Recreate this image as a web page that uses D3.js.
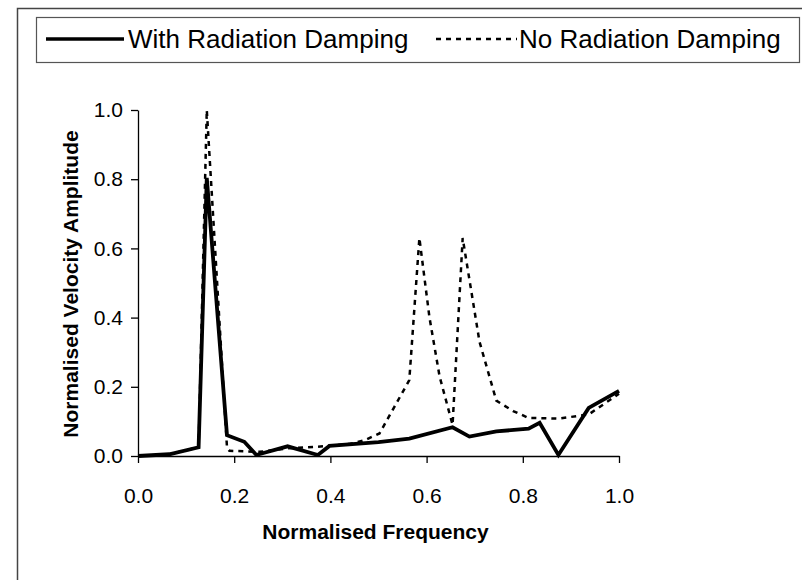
<!DOCTYPE html>
<html>
<head>
<meta charset="utf-8">
<script src="https://cdn.jsdelivr.net/npm/d3@7"></script>
<style>
  body { margin: 0; background: #fff; }
  svg { font-family: "Liberation Sans", Arial, sans-serif; }
</style>
</head>
<body>
<div id="chart"></div>
<script>
// data
var freqWith = [0, 0.065, 0.126, 0.143, 0.185, 0.221, 0.246, 0.311, 0.374, 0.398, 0.5, 0.564, 0.654, 0.689, 0.745, 0.812, 0.835, 0.874, 0.937, 1.0];
var ampWith  = [0, 0.005, 0.025, 0.804, 0.06, 0.041, 0.003, 0.028, 0.003, 0.029, 0.04, 0.05, 0.083, 0.056, 0.071, 0.079, 0.096, 0.003, 0.139, 0.188];

var freqNo = [0, 0.065, 0.126, 0.143, 0.185, 0.19, 0.253, 0.311, 0.374, 0.398, 0.44, 0.47, 0.502, 0.533, 0.564, 0.585, 0.606, 0.627, 0.654, 0.675, 0.71, 0.745, 0.78, 0.812, 0.874, 0.937, 1.0];
var ampNo  = [0, 0.005, 0.025, 1.0, 0.025, 0.015, 0.012, 0.022, 0.027, 0.03, 0.035, 0.045, 0.065, 0.142, 0.219, 0.63, 0.40, 0.23, 0.09, 0.63, 0.33, 0.16, 0.13, 0.11, 0.108, 0.12, 0.18];

var ticks = [0, 0.2, 0.4, 0.6, 0.8, 1.0];
var seriesNames = ["With Radiation Damping", "No Radiation Damping"];

var svgWidth = 802, svgHeight = 580;
var margin = {top: 110, left: 138};
var width = 481, height = 346;

var svg = d3.select("#chart").append("svg")
    .attr("width", svgWidth)
    .attr("height", svgHeight);

// outer frame
svg.append("rect")
    .attr("x", 17.5).attr("y", 8.5)
    .attr("width", 800).attr("height", 600)
    .attr("fill", "none").attr("stroke", "#444").attr("stroke-width", 1.5);

// legend box
svg.append("rect")
    .attr("x", 36.5).attr("y", 17.5)
    .attr("width", 763).attr("height", 45)
    .attr("fill", "none").attr("stroke", "#555").attr("stroke-width", 1.2);

var legend = svg.append("g");
legend.append("line")
    .attr("x1", 46).attr("x2", 124).attr("y1", 39).attr("y2", 39)
    .attr("stroke", "#000").attr("stroke-width", 3.5);
legend.append("text")
    .attr("x", 128).attr("y", 48)
    .attr("font-size", 26)
    .text(seriesNames[0]);
legend.append("line")
    .attr("x1", 436).attr("x2", 517).attr("y1", 39).attr("y2", 39)
    .attr("stroke", "#000").attr("stroke-width", 2.5)
    .attr("stroke-dasharray", "5,5");
legend.append("text")
    .attr("x", 519).attr("y", 48)
    .attr("font-size", 26)
    .text(seriesNames[1]);

var chartGroup = svg.append("g")
    .attr("transform", `translate(${margin.left}, ${margin.top})`);

var x = d3.scaleLinear().domain([0, 1]).range([0, width]);
var y = d3.scaleLinear().domain([0, 1]).range([height, 0]);

var xAxis = chartGroup.append("g")
    .attr("transform", "translate(0," + height + ")")
    .call(d3.axisBottom(x).tickValues(ticks).tickFormat(d3.format(".1f")).tickSizeInner(7).tickSizeOuter(0).tickPadding(25));
var yAxis = chartGroup.append("g")
    .call(d3.axisLeft(y).tickValues(ticks).tickFormat(d3.format(".1f")).tickSizeInner(7).tickSizeOuter(0).tickPadding(8));

[xAxis, yAxis].forEach(function(a) {
  a.select(".domain").attr("stroke", "#000").attr("stroke-width", 1.3);
  a.selectAll(".tick line").attr("stroke", "#000").attr("stroke-width", 1.3);
  a.selectAll(".tick text")
    .attr("font-family", "Liberation Sans, Arial, sans-serif")
    .attr("font-size", 21).attr("fill", "#000");
});

chartGroup.append("text")
    .attr("x", width / 2 - 3)
    .attr("y", height + 83)
    .attr("text-anchor", "middle")
    .attr("font-size", 21)
    .attr("font-weight", "bold")
    .text("Normalised Frequency");

chartGroup.append("text")
    .attr("transform", "rotate(-90)")
    .attr("x", -(height / 2) - 1)
    .attr("y", -60)
    .attr("text-anchor", "middle")
    .attr("font-size", 21)
    .attr("font-weight", "bold")
    .text("Normalised Velocity Amplitude");

var line = d3.line()
    .x(function(d) { return x(d[0]); })
    .y(function(d) { return y(d[1]); });

chartGroup.append("path")
    .datum(d3.zip(freqNo, ampNo))
    .attr("d", line)
    .attr("fill", "none")
    .attr("stroke", "#000")
    .attr("stroke-width", 2.5)
    .attr("stroke-dasharray", "5,5");

chartGroup.append("path")
    .datum(d3.zip(freqWith, ampWith))
    .attr("d", line)
    .attr("fill", "none")
    .attr("stroke", "#000")
    .attr("stroke-width", 3.8)
    .attr("stroke-linejoin", "miter");
</script>
</body>
</html>
